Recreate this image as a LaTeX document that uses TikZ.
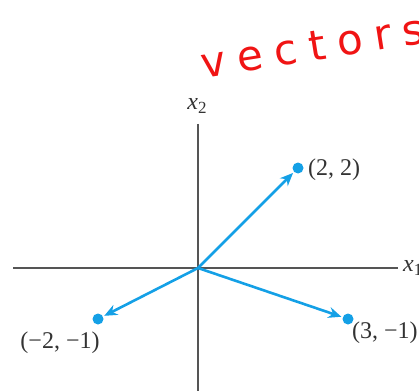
\documentclass[tikz,border=0pt]{standalone}
\usepackage{fontspec}
\setmainfont{Liberation Serif}
\newfontfamily\handfont[LetterSpace=28]{DejaVu Sans}
\usetikzlibrary{arrows.meta}
\definecolor{vecblue}{RGB}{20,160,230}
\definecolor{axisgray}{RGB}{85,85,85}
\definecolor{inkred}{RGB}{240,20,20}
\newcommand{\subtwo}[1]{\raisebox{-0.35ex}{\fontsize{17}{18}\selectfont #1}}
\tikzset{
  axisline/.style={draw=axisgray, line width=1.8pt},
  vecline/.style={draw=vecblue, line width=2.6pt, -{Stealth[length=13pt,width=11pt]}, shorten >=7pt},
  dotpt/.style={circle, fill=vecblue, inner sep=0pt, minimum size=11pt},
  lab/.style={font=\fontsize{24}{26}\selectfont, inner sep=0pt, text=black!80},
}
\begin{document}
\begin{tikzpicture}[x=1pt,y=-1pt]
\useasboundingbox (0,0) rectangle (419,390);
\clip (0,0) rectangle (419,390);
% handwritten title
\node[inkred, font=\handfont\fontsize{42}{46}\selectfont, rotate=9, anchor=west, inner sep=0pt] (title) at (201,64) {vectors};
% axes
\coordinate (o) at (198,268);
\coordinate (xl) at (13,268);
\coordinate (xr) at (398,268);
\coordinate (yt) at (198,124);
\coordinate (yb) at (198,392);
\draw[axisline] (xl) -- (xr);
\draw[axisline] (yt) -- (yb);
\node[lab, anchor=west] (x1) at (403,268) {\textit{x}\subtwo{1}};
\node[lab] (x2) at (197,106) {\textit{x}\subtwo{2}};
% points
\node[dotpt] (p1) at (298,168) {};
\node[dotpt] (p2) at (98,319) {};
\node[dotpt] (p3) at (348,319) {};
\draw[vecline] (o) -- (p1.center);
\draw[vecline] (o) -- (p2.center);
\draw[vecline] (o) -- (p3.center);
\node[lab, anchor=west] (l1) at (308,170) {(2, 2)};
\node[lab] (l2) at (60,343) {(−2, −1)};
\node[lab, anchor=west] (l3) at (352,333) {(3, −1)};
\end{tikzpicture}
\end{document}
